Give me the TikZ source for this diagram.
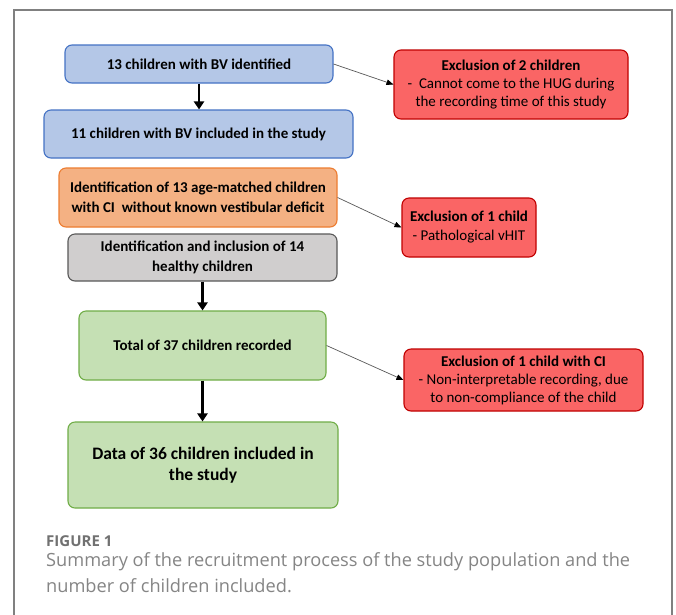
\documentclass[tikz,border=0pt]{standalone}
\usepackage{fontspec}
\setmainfont{Carlito}
\newfontfamily\capfont{Open Sans}
\usetikzlibrary{arrows.meta}
\definecolor{bluefill}{HTML}{B4C7E7}
\definecolor{blueline}{HTML}{4472C4}
\definecolor{orangefill}{HTML}{F4B183}
\definecolor{orangeline}{HTML}{ED7D31}
\definecolor{grayfill}{HTML}{D0CECE}
\definecolor{grayline}{HTML}{595959}
\definecolor{greenfill}{HTML}{C5E0B4}
\definecolor{greenline}{HTML}{70AD47}
\definecolor{redfill}{HTML}{FA6565}
\definecolor{redline}{HTML}{C00000}
\definecolor{framegray}{HTML}{808080}
\definecolor{captiongray}{HTML}{858585}
\begin{document}
\begin{tikzpicture}[x=1pt,y=-1pt,
  box/.style={rounded corners=7pt, line width=1.1pt, align=center, inner sep=0pt,
    font=\fontsize{15}{20}\selectfont\bfseries},
  bluebox/.style={box, draw=blueline, fill=bluefill},
  orangebox/.style={box, draw=orangeline, fill=orangefill},
  graybox/.style={box, draw=grayline, fill=grayfill},
  greenbox/.style={box, draw=greenline, fill=greenfill},
  redbox/.style={box, draw=redline, fill=redfill, font=\fontsize{15}{18}\selectfont},
  thick arrow/.style={line width=2.8pt, -{Triangle[length=8pt,width=10pt]}},
  thin arrow/.style={line width=0.7pt, draw=black!65, -{Triangle[length=7pt,width=5.5pt,color=black]}},
  figlabel/.style={anchor=base west, inner sep=0pt, text=captiongray!85!black, font=\capfont\fontsize{15}{18}\selectfont\bfseries},
  captext/.style={anchor=base west, inner sep=0pt, text=captiongray, font=\capfont\fontsize{18.2}{22}\selectfont}
]
\useasboundingbox (0,0) rectangle (676,614);
\fill[white] (0,0) rectangle (676,614);
\draw[framegray, line width=1.2pt] (14,630) -- (14,10) -- (672,10) -- (672,630);

\node[bluebox, minimum width=268pt, minimum height=38pt] (b1) at (199,64) {13 children with BV identified};
\node[bluebox, minimum width=309pt, minimum height=48pt] (b2) at (198.5,134) {11 children with BV included in the study};
\node[orangebox, minimum width=278pt, minimum height=59pt] (b3) at (198,197.5) {Identification of 13 age-matched children\\with CI\ \ without known vestibular deficit};
\node[graybox, minimum width=269pt, minimum height=47pt] (b4) at (202.5,257.5) {Identification and inclusion of 14\\healthy children};
\node[greenbox, minimum width=247pt, minimum height=69pt] (b5) at (202.5,345.5) {Total of 37 children recorded};
\node[greenbox, minimum width=270pt, minimum height=86pt, font=\fontsize{17.5}{21}\selectfont\bfseries] (b6) at (203,465) {Data of 36 children included in\\the study};

\node[redbox, minimum width=234pt, minimum height=69pt] (ea) at (511,84.5) {\textbf{Exclusion of 2 children}\\-\ \ Cannot come to the HUG during\\the recording time of this study};
\node[redbox, minimum width=134pt, minimum height=59pt, font=\fontsize{15}{19}\selectfont] (eb) at (469,227.5) {\textbf{Exclusion of 1 child}\\- Pathological vHIT};
\node[redbox, minimum width=239pt, minimum height=62pt] (ec) at (523.5,380) {\textbf{Exclusion of 1 child with CI}\\- Non-interpretable recording, due\\to non-compliance of the child};

\draw[thick arrow] (b1.south) -- (b1.south |- b2.north);
\draw[thick arrow] (b4.south) -- (b4.south |- b5.north);
\draw[thick arrow] (b5.south) -- (b5.south |- b6.north);

\draw[thin arrow] (b1.east) -- (ea.west);
\draw[thin arrow] (b3.east) -- (eb.west);
\draw[thin arrow] (b5.east) -- (ec.west);

\node[figlabel] (fig) at (46,546.7) {FIGURE 1};
\node[captext] (cap1) at (46,566.7) {Summary of the recruitment process of the study population and the};
\node[captext] (cap2) at (46,592) {number of children included.};
\end{tikzpicture}
\end{document}
